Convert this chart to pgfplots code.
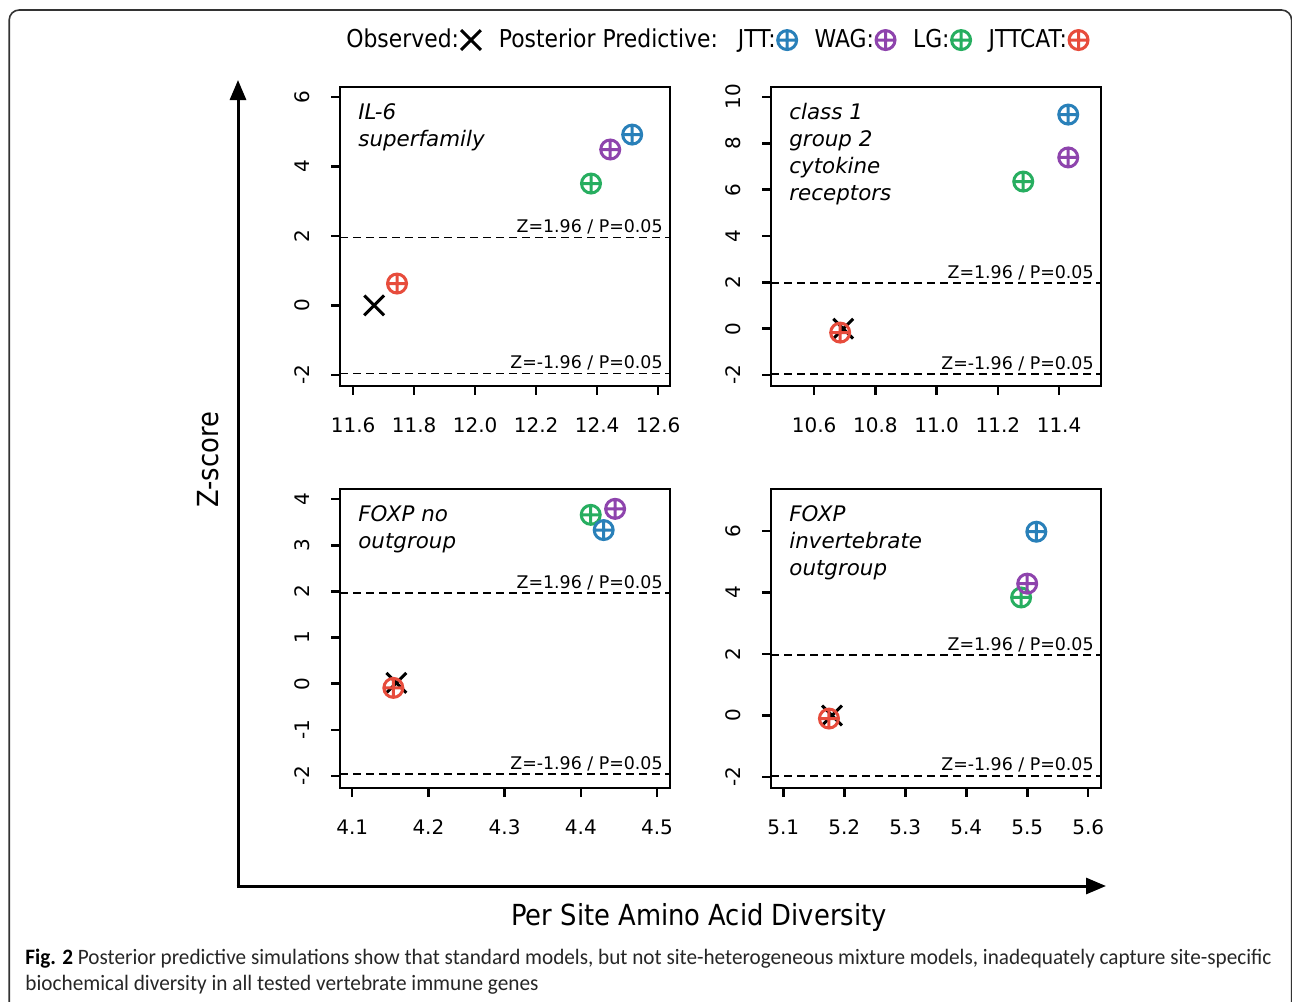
\documentclass[border=0pt]{standalone}
\usepackage{pgfplots}
\pgfplotsset{compat=1.18}
\usetikzlibrary{plotmarks,arrows.meta}
\usepackage{graphicx}
\usepackage{fontspec}
\setmainfont{DejaVu Sans}
\newfontfamily\legfont[FakeStretch=0.89]{DejaVu Sans}
\newfontfamily\capfont{Carlito}
\definecolor{cJTT}{RGB}{41,128,185}
\definecolor{cWAG}{RGB}{142,68,173}
\definecolor{cLG}{RGB}{39,174,96}
\definecolor{cCAT}{RGB}{231,76,60}
\tikzset{
  thrlab/.style={anchor=south east, inner sep=0pt, font=\fontsize{8.7}{10}\selectfont, xshift=-3.5pt, yshift=1.5pt},
  ptxt/.style={anchor=north west, align=left, inner sep=0pt, font=\fontsize{10.7}{13.5}\selectfont\itshape, xshift=9pt, yshift=-8pt},
}
\pgfplotsset{
  panel/.style={
    scale only axis, width=165pt, height=149.5pt,
    anchor=north west,
    axis line style={line width=1.3pt},
    tick style={line width=1.3pt, black},
    major tick length=4.5pt,
    tick align=outside,
    tick pos=left,
    ticklabel style={font=\fontsize{10}{11}\selectfont},
    yticklabel style={rotate=90, anchor=south},
    xticklabel shift=8pt,
    yticklabel shift=7pt,
    clip=false,
  },
  obs/.style={only marks, mark=x, mark size=7pt, line width=1.5pt, black, forget plot},
  pp/.style={only marks, mark=oplus, mark size=4.75pt, line width=1.5pt, forget plot},
  thr/.style={dash pattern=on 4pt off 2.5pt, line width=0.8pt, black, forget plot},
  limg/.style={only marks, legend image code/.code={\draw[##1] plot coordinates {(0pt,0pt)};}},
}
\begin{document}
\begin{tikzpicture}
\path[use as bounding box] (0pt,0pt) rectangle (646pt,-501pt);
\draw[line width=0.8pt, rounded corners=5pt, black!80] (4.6pt,-530pt) -- (4.6pt,-5pt) -- (645.8pt,-5pt) -- (645.8pt,-530pt);

% Panel 1
\begin{axis}[panel, at={(170pt,-43.5pt)},
  xmin=11.557, xmax=12.639, ymin=-2.32, ymax=6.29,
  xtick={11.6,11.8,12.0,12.2,12.4,12.6}, xticklabels={11.6,11.8,12.0,12.2,12.4,12.6},
  ytick={-2,0,2,4,6}, yticklabels={-2,0,2,4,6},
  legend columns=-1, legend plot pos=right,
  legend style={at={(0.012,1.157)}, anchor=west, draw=none, fill=none, inner sep=0pt,
    font=\legfont\fontsize{12.3}{14}\selectfont, nodes={inner sep=1pt},
    /tikz/every even column/.append style={column sep=8pt}},
]
\addlegendimage{limg, mark=x, mark size=7pt, line width=1.5pt, black}
\addlegendentry{Observed:}
\addlegendimage{empty legend}
\addlegendentry{Posterior Predictive:}
\addlegendimage{limg, mark=oplus, mark size=4.75pt, line width=1.5pt, cJTT}
\addlegendentry{JTT:}
\addlegendimage{limg, mark=oplus, mark size=4.75pt, line width=1.5pt, cWAG}
\addlegendentry{WAG:}
\addlegendimage{limg, mark=oplus, mark size=4.75pt, line width=1.5pt, cLG}
\addlegendentry{LG:}
\addlegendimage{limg, mark=oplus, mark size=4.75pt, line width=1.5pt, cCAT}
\addlegendentry{JTTCAT:}
\addplot[thr] coordinates {(11.557,1.96) (12.639,1.96)};
\addplot[thr] coordinates {(11.557,-1.96) (12.639,-1.96)};
\node[thrlab] at (axis cs:12.639,1.96) {Z=1.96 / P=0.05};
\node[thrlab] at (axis cs:12.639,-1.96) {Z=-1.96 / P=0.05};
\node[ptxt] at (rel axis cs:0,1) {IL-6\\superfamily};
\addplot[obs] coordinates {(11.669,0)};
\addplot[pp, cCAT] coordinates {(11.744,0.63)};
\addplot[pp, cLG] coordinates {(12.380,3.51)};
\addplot[pp, cWAG] coordinates {(12.443,4.49)};
\addplot[pp, cJTT] coordinates {(12.515,4.92)};
\end{axis}

% Panel 2
\begin{axis}[panel, at={(385.5pt,-43.5pt)},
  xmin=10.459, xmax=11.537, ymin=-2.475, ymax=10.43,
  xtick={10.6,10.8,11.0,11.2,11.4}, xticklabels={10.6,10.8,11.0,11.2,11.4},
  ytick={-2,0,2,4,6,8,10}, yticklabels={-2,0,2,4,6,8,10},
]
\addplot[thr] coordinates {(10.459,1.96) (11.537,1.96)};
\addplot[thr] coordinates {(10.459,-1.96) (11.537,-1.96)};
\node[thrlab] at (axis cs:11.537,1.96) {Z=1.96 / P=0.05};
\node[thrlab] at (axis cs:11.537,-1.96) {Z=-1.96 / P=0.05};
\node[ptxt] at (rel axis cs:0,1) {class 1\\group 2\\cytokine\\receptors};
\addplot[obs] coordinates {(10.695,0)};
\addplot[pp, cCAT] coordinates {(10.685,-0.17)};
\addplot[pp, cLG] coordinates {(11.283,6.35)};
\addplot[pp, cWAG] coordinates {(11.430,7.39)};
\addplot[pp, cJTT] coordinates {(11.430,9.24)};
\end{axis}

% Panel 3
\begin{axis}[panel, at={(170pt,-244.5pt)},
  xmin=4.084, xmax=4.517, ymin=-2.26, ymax=4.22,
  xtick={4.1,4.2,4.3,4.4,4.5}, xticklabels={4.1,4.2,4.3,4.4,4.5},
  ytick={-2,-1,0,1,2,3,4}, yticklabels={-2,-1,0,1,2,3,4},
]
\addplot[thr] coordinates {(4.084,1.96) (4.517,1.96)};
\addplot[thr] coordinates {(4.084,-1.96) (4.517,-1.96)};
\node[thrlab] at (axis cs:4.517,1.96) {Z=1.96 / P=0.05};
\node[thrlab] at (axis cs:4.517,-1.96) {Z=-1.96 / P=0.05};
\node[ptxt] at (rel axis cs:0,1) {FOXP no\\outgroup};
\addplot[obs] coordinates {(4.158,0.02)};
\addplot[pp, cCAT] coordinates {(4.154,-0.09)};
\addplot[pp, cLG] coordinates {(4.413,3.66)};
\addplot[pp, cWAG] coordinates {(4.445,3.79)};
\addplot[pp, cJTT] coordinates {(4.430,3.33)};
\end{axis}

% Panel 4
\begin{axis}[panel, at={(385.5pt,-244.5pt)},
  xmin=5.080, xmax=5.621, ymin=-2.36, ymax=7.37,
  xtick={5.1,5.2,5.3,5.4,5.5,5.6}, xticklabels={5.1,5.2,5.3,5.4,5.5,5.6},
  ytick={-2,0,2,4,6}, yticklabels={-2,0,2,4,6},
]
\addplot[thr] coordinates {(5.080,1.96) (5.621,1.96)};
\addplot[thr] coordinates {(5.080,-1.96) (5.621,-1.96)};
\node[thrlab] at (axis cs:5.621,1.96) {Z=1.96 / P=0.05};
\node[thrlab] at (axis cs:5.621,-1.96) {Z=-1.96 / P=0.05};
\node[ptxt] at (rel axis cs:0,1) {FOXP\\invertebrate\\outgroup};
\addplot[obs] coordinates {(5.180,0)};
\addplot[pp, cCAT] coordinates {(5.175,-0.10)};
\addplot[pp, cLG] coordinates {(5.490,3.84)};
\addplot[pp, cWAG] coordinates {(5.500,4.29)};
\addplot[pp, cJTT] coordinates {(5.515,5.98)};
\end{axis}

% big axes arrows and labels
\draw[line width=1.5pt, -{Triangle[length=10pt,width=8pt]}] (119pt,-443pt) -- (119pt,-40pt);
\draw[line width=1.5pt, -{Triangle[length=10pt,width=8pt]}] (118.25pt,-443pt) -- (553pt,-443pt);
\node[rotate=90, font=\legfont\fontsize{14.5}{16}\selectfont] at (104pt,-230pt) {Z-score};
\node[font=\legfont\fontsize{14.5}{16}\selectfont] at (349.5pt,-458.5pt) {Per Site Amino Acid Diversity};

% caption
\node[anchor=base west, inner sep=0pt, text=black!85] at (12.5pt,-482pt)
  {\resizebox{623pt}{\height}{\capfont\fontsize{11}{13}\selectfont\textbf{\color{black}Fig. 2} Posterior predictive simulations show that standard models, but not site-heterogeneous mixture models, inadequately capture site-specific}};
\node[anchor=base west, inner sep=0pt, text=black!85] at (12.5pt,-495pt)
  {\resizebox{256.5pt}{\height}{\capfont\fontsize{11}{13}\selectfont biochemical diversity in all tested vertebrate immune genes}};
\end{tikzpicture}
\end{document}
